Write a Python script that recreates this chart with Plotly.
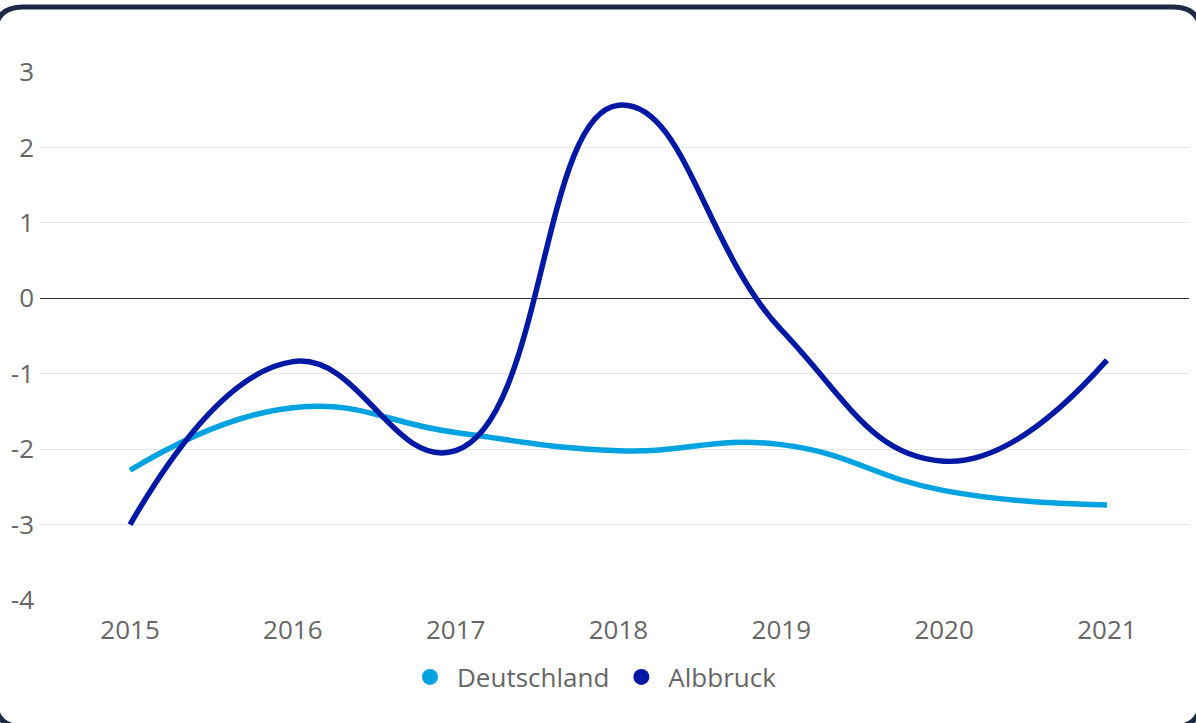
import plotly.graph_objects as go

years = [2015, 2016, 2017, 2018, 2019, 2020, 2021]
deutschland = [-2.28, -1.45, -1.78, -2.02, -1.94, -2.55, -2.74]
albbruck = [-3.0, -0.84, -2.02, 2.56, -0.42, -2.16, -0.82]
y_ticks = [-4, -3, -2, -1, 0, 1, 2, 3]
y_ticktext = ["-4", "-3", "-2", "-1", "0", "1", "2", "3"]

C_DE = "#00a3e0"
C_AL = "#0019a5"
FONT = "Open Sans"
FS = 26

W, H = 1196, 723
L, R, T, B = 40, 7, 72, 123
pw, ph = W - L - R, H - T - B

fig = go.Figure()
for name, vals, col in [("Deutschland", deutschland, C_DE), ("Albbruck", albbruck, C_AL)]:
    fig.add_trace(go.Scatter(x=years, y=vals, mode="lines", name=name,
                             line=dict(color=col, width=5.5, shape="spline", smoothing=1.3),
                             showlegend=False))
for name, col in [("Deutschland", C_DE), ("Albbruck", C_AL)]:
    fig.add_trace(go.Scatter(x=[None], y=[None], mode="markers", name=name,
                             marker=dict(color=col, size=20, symbol="circle")))

def px(x):
    return (x - L) / pw

def py(y):
    return (H - B - y) / ph

# rounded frame
x0, x1, y0, y1, r = -5, 1201, 7, 727, 28
path = (f"M {px(x0+r)},{py(y0)} L {px(x1-r)},{py(y0)} Q {px(x1)},{py(y0)} {px(x1)},{py(y0+r)} "
        f"L {px(x1)},{py(y1-r)} Q {px(x1)},{py(y1)} {px(x1-r)},{py(y1)} "
        f"L {px(x0+r)},{py(y1)} Q {px(x0)},{py(y1)} {px(x0)},{py(y1-r)} "
        f"L {px(x0)},{py(y0+r)} Q {px(x0)},{py(y0)} {px(x0+r)},{py(y0)} Z")
fig.add_shape(type="path", path=path, xref="paper", yref="paper",
              line=dict(color="#1e2a45", width=5), layer="above")

fig.update_layout(
    width=W, height=H,
    margin=dict(l=L, r=R, t=T, b=B),
    paper_bgcolor="white", plot_bgcolor="white",
    font=dict(family=FONT, color="#666666", size=FS),
    xaxis=dict(range=[2014.447, 2021.504], tickvals=years, ticktext=[str(y) for y in years],
               showgrid=False, zeroline=False, showline=False, ticks="",
               ticklabelstandoff=12, tickfont=dict(size=FS, color="#666666")),
    yaxis=dict(range=[-4, 3], tickvals=y_ticks, ticktext=y_ticktext,
               showgrid=True, gridcolor="#e6e6e6", gridwidth=1,
               zeroline=True, zerolinecolor="#2a3444", zerolinewidth=1,
               showline=False, ticks="", ticklabelstandoff=5,
               tickfont=dict(size=FS, color="#666666")),
    legend=dict(orientation="h", x=0.5 - 22 / pw, xanchor="center", y=-77 / ph, yanchor="middle",
                font=dict(size=FS, color="#666666"), itemwidth=44),
    showlegend=True,
)

fig.write_html("out.html", config={"displayModeBar": False},
               post_script="document.body.style.margin='0';document.body.style.padding='0';")
